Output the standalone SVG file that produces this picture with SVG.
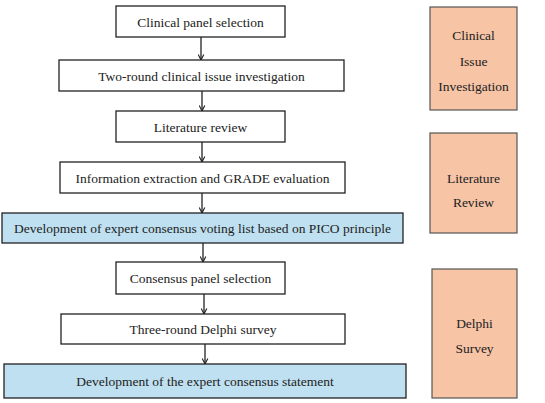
<svg xmlns="http://www.w3.org/2000/svg" width="545" height="403" viewBox="0 0 545 403">
<defs>
<marker id="ah" viewBox="0 0 10 10" refX="9" refY="5" markerWidth="7" markerHeight="7" orient="auto" markerUnits="userSpaceOnUse">
<path d="M1,1 L9,5 L1,9" fill="none" stroke="#222" stroke-width="1.6"/>
</marker>
<style>
.b{fill:#fff;stroke:#222;stroke-width:1.3}
.bl{fill:#bfe0f0;stroke:#222;stroke-width:1.3}
.o{fill:#f7c4a6;stroke:#555;stroke-width:1.2}
text{font-family:"Liberation Serif","Times New Roman",serif;font-size:13.5px;fill:#222;text-anchor:middle;dominant-baseline:central}
.c{stroke:#222;stroke-width:1.3;fill:none;marker-end:url(#ah)}
</style>
</defs>
<rect width="545" height="403" fill="#fff"/>
<g id="connectors">
<line class="c" x1="201" y1="37" x2="201" y2="60"/>
<line class="c" x1="202" y1="91" x2="202" y2="111"/>
<line class="c" x1="202" y1="142" x2="202" y2="162"/>
<line class="c" x1="202" y1="193" x2="202" y2="213"/>
<line class="c" x1="203" y1="243" x2="203" y2="262"/>
<line class="c" x1="204" y1="294" x2="204" y2="314"/>
<line class="c" x1="205" y1="344" x2="205" y2="364"/>
</g>
<g id="n1"><rect class="b" x="116" y="6" width="169" height="31"/><text x="200.5" y="22">Clinical panel selection</text></g>
<g id="n2"><rect class="b" x="59" y="60" width="285" height="31"/><text x="201.5" y="76">Two-round clinical issue investigation</text></g>
<g id="n3"><rect class="b" x="116" y="111" width="169" height="31"/><text x="200.5" y="127">Literature review</text></g>
<g id="n4"><rect class="b" x="60" y="162" width="285" height="31"/><text x="202.5" y="178">Information extraction and GRADE evaluation</text></g>
<g id="n5"><rect class="bl" x="2" y="213" width="401" height="30"/><text x="202.5" y="228.5">Development of expert consensus voting list based on PICO principle</text></g>
<g id="n6"><rect class="b" x="116" y="262" width="169" height="32"/><text x="200.5" y="278.5">Consensus panel selection</text></g>
<g id="n7"><rect class="b" x="61" y="314" width="284" height="30"/><text x="203" y="329.5">Three-round Delphi survey</text></g>
<g id="n8"><rect class="bl" x="4" y="364" width="402" height="34"/><text x="205" y="381">Development of the expert consensus statement</text></g>
<g id="p1"><rect class="o" x="430" y="7" width="87" height="103"/><text x="473.5" y="35">Clinical</text><text x="473.5" y="61">Issue</text><text x="473.5" y="86">Investigation</text></g>
<g id="p2"><rect class="o" x="430" y="133" width="87" height="100"/><text x="473.5" y="178">Literature</text><text x="473.5" y="202">Review</text></g>
<g id="p3"><rect class="o" x="432" y="269" width="85" height="129"/><text x="474.5" y="323">Delphi</text><text x="474.5" y="348">Survey</text></g>
</svg>
